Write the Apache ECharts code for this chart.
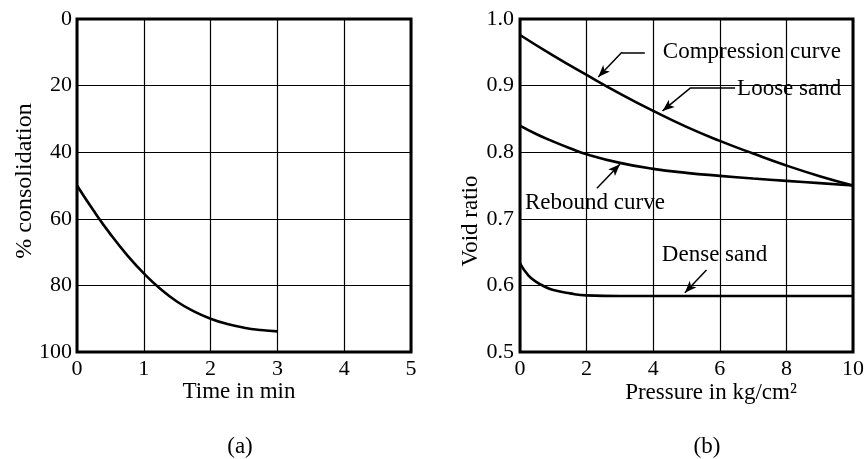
<!DOCTYPE html>
<html><head><meta charset="utf-8">
<script src="https://cdn.jsdelivr.net/npm/echarts@6/dist/echarts.min.js"></script>
<style>html,body{margin:0;padding:0;background:#fff}#c{width:867px;height:459px}</style>
</head><body><div id="c"></div>
<script>
// ---- data ----
const timeTicks = [0, 1, 2, 3, 4, 5];
const consolidationTicks = [0, 20, 40, 60, 80, 100];
const pressureTicks = [0, 2, 4, 6, 8, 10];
const voidRatioTicks = [0.5, 0.6, 0.7, 0.8, 0.9, 1.0];

// (a) % consolidation vs time (min)
const consolidationCurve = [[0,50],[0.25,57.6],[0.5,64.6],[0.75,70.9],[1,76.4],[1.25,81.1],[1.5,84.9],[1.75,87.8],[2,90.0],[2.25,91.6],[2.5,92.7],[2.75,93.4],[3,93.8]];

// (b) void ratio vs pressure (kg/cm2)
const compressionCurve = [[0,0.976],[1,0.945],[2,0.916],[3,0.888],[4,0.862],[5,0.838],[6,0.817],[7,0.798],[8,0.780],[9,0.764],[10,0.750]];
const reboundCurve = [[0,0.840],[0.5,0.827],[1,0.816],[1.5,0.806],[2,0.797],[3,0.784],[4,0.775],[5,0.769],[6,0.7645],[7,0.7605],[8,0.757],[9,0.7535],[10,0.750]];
const denseSandCurve = [[0,0.633],[0.25,0.615],[0.5,0.605],[0.75,0.598],[1,0.593],[1.5,0.588],[2,0.585],[3,0.584],[4,0.584],[6,0.584],[8,0.584],[10,0.584]];

// annotations (in data coordinates of chart b)
const annotationTexts = ['Compression curve', 'Loose sand', 'Rebound curve', 'Dense sand'];
const annotationAnchors = [[4.29,0.950],[6.52,0.895],[0.15,0.724],[4.26,0.646]];
const leaderPaths = [
  [[3.75,0.950],[3.06,0.950],[2.35,0.913]],
  [[6.46,0.897],[5.13,0.897],[4.28,0.862]],
  [[2.31,0.746],[3.0,0.782]],
  [[5.6,0.623],[4.95,0.589]]
];

// ---- chart ----
const FONT = 'Liberation Serif';
const chart = echarts.init(document.getElementById('c'), null, {renderer: 'canvas'});

function axisCommon(ticks, fmt, margin) {
  return {
    type: 'value',
    min: ticks[0], max: ticks[ticks.length - 1],
    interval: ticks[1] - ticks[0],
    axisLine: {show: false}, axisTick: {show: false},
    splitLine: {show: true, lineStyle: {color: '#000', width: 1.2}},
    axisLabel: {color: '#000', fontFamily: FONT, fontSize: 22, margin: margin, formatter: fmt}
  };
}

const markLines = [];
leaderPaths.forEach(path => {
  for (let i = 0; i < path.length - 1; i++) {
    const last = i === path.length - 2;
    markLines.push([
      {coord: path[i], symbol: 'none'},
      {coord: path[i + 1], symbol: last ? 'arrow' : 'none', symbolSize: last ? [7, 12] : 0}
    ]);
  }
});

const curveStyle = {color: '#000', width: 2.6};

chart.setOption({
  animation: false,
  backgroundColor: '#fff',
  grid: [
    {left: 77, right: 456, top: 19, bottom: 107, show: true, borderColor: '#000', borderWidth: 3, containLabel: false},
    {left: 520, right: 14, top: 19, bottom: 107, show: true, borderColor: '#000', borderWidth: 3, containLabel: false}
  ],
  xAxis: [
    Object.assign(axisCommon(timeTicks, v => String(v), 6), {gridIndex: 0}),
    Object.assign(axisCommon(pressureTicks, v => String(v), 6), {gridIndex: 1})
  ],
  yAxis: [
    Object.assign(axisCommon(consolidationTicks, v => String(v), 5), {gridIndex: 0, inverse: true}),
    Object.assign(axisCommon(voidRatioTicks, v => v.toFixed(1), 6), {gridIndex: 1})
  ],
  series: [
    {type: 'line', xAxisIndex: 0, yAxisIndex: 0, data: consolidationCurve, smooth: true, showSymbol: false, lineStyle: curveStyle},
    {type: 'line', xAxisIndex: 1, yAxisIndex: 1, data: compressionCurve, smooth: true, showSymbol: false, lineStyle: curveStyle,
      markLine: {silent: true, animation: false, label: {show: false}, lineStyle: {color: '#000', width: 1.5, type: 'solid'}, emphasis: {disabled: true}, data: markLines}},
    {type: 'line', xAxisIndex: 1, yAxisIndex: 1, data: reboundCurve, smooth: true, showSymbol: false, lineStyle: curveStyle},
    {type: 'line', xAxisIndex: 1, yAxisIndex: 1, data: denseSandCurve, smooth: true, showSymbol: false, lineStyle: curveStyle}
  ]
});

const textStyle = (t, extra) => Object.assign({text: t, fill: '#000', font: '23px "' + FONT + '"'}, extra || {});
const graphics = [
  {type: 'text', x: 25, y: 181, rotation: Math.PI / 2, style: textStyle('% consolidation', {align: 'center', verticalAlign: 'middle', font: '24px "' + FONT + '"'})},
  {type: 'text', x: 471, y: 221, rotation: Math.PI / 2, style: textStyle('Void ratio', {align: 'center', verticalAlign: 'middle'})},
  {type: 'text', x: 239, y: 392, style: textStyle('Time in min', {align: 'center', verticalAlign: 'middle'})},
  {type: 'text', x: 711, y: 393, style: textStyle('Pressure in kg/cm²', {align: 'center', verticalAlign: 'middle'})},
  {type: 'text', x: 240, y: 447, style: textStyle('(a)', {align: 'center', verticalAlign: 'middle'})},
  {type: 'text', x: 707, y: 447, style: textStyle('(b)', {align: 'center', verticalAlign: 'middle'})}
];
annotationTexts.forEach((t, i) => {
  const p = chart.convertToPixel({gridIndex: 1}, annotationAnchors[i]);
  graphics.push({type: 'text', x: p[0], y: p[1], style: textStyle(t, {align: 'left', verticalAlign: 'middle'})});
});
chart.setOption({graphic: graphics});
</script>
</body></html>
